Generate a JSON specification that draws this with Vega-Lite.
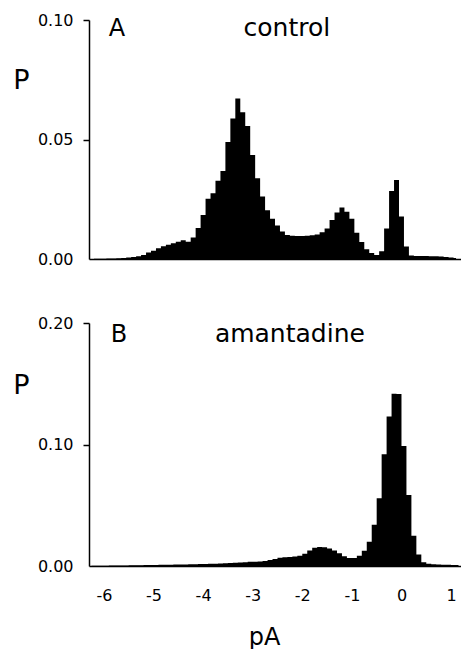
{
  "$schema": "https://vega.github.io/schema/vega-lite/v6.json",
  "background": "white",
  "padding": {"left": 12, "top": 12, "right": 0, "bottom": 0},
  "bounds": "flush",
  "spacing": 64,
  "config": {
    "view": {"stroke": null},
    "font": "DejaVu Sans",
    "axis": {
      "grid": false,
      "domainColor": "black",
      "tickColor": "black",
      "labelColor": "black",
      "titleColor": "black",
      "labelFont": "DejaVu Sans",
      "titleFont": "DejaVu Sans",
      "labelFontSize": 16,
      "labelFontWeight": "normal",
      "titleFontWeight": "normal",
      "domainWidth": 1.5,
      "tickWidth": 1.5
    },
    "text": {"color": "black", "font": "DejaVu Sans"}
  },
  "datasets": {
    "control": [
      {"pA": -6.2, "P": 0.0001}, {"pA": -6.1, "P": 0.0001}, {"pA": -6.0, "P": 0.0001},
      {"pA": -5.9, "P": 0.0002}, {"pA": -5.8, "P": 0.0002}, {"pA": -5.7, "P": 0.0003},
      {"pA": -5.6, "P": 0.0004}, {"pA": -5.5, "P": 0.0006}, {"pA": -5.4, "P": 0.0008},
      {"pA": -5.3, "P": 0.0011}, {"pA": -5.2, "P": 0.0017}, {"pA": -5.1, "P": 0.0027},
      {"pA": -5.0, "P": 0.0035}, {"pA": -4.9, "P": 0.0045}, {"pA": -4.8, "P": 0.0053},
      {"pA": -4.7, "P": 0.0060}, {"pA": -4.6, "P": 0.0066}, {"pA": -4.5, "P": 0.0072},
      {"pA": -4.4, "P": 0.0078}, {"pA": -4.3, "P": 0.0072}, {"pA": -4.2, "P": 0.0090},
      {"pA": -4.1, "P": 0.0130}, {"pA": -4.0, "P": 0.0184}, {"pA": -3.9, "P": 0.0252},
      {"pA": -3.8, "P": 0.0275}, {"pA": -3.7, "P": 0.0327}, {"pA": -3.6, "P": 0.0368},
      {"pA": -3.5, "P": 0.0490}, {"pA": -3.4, "P": 0.0588}, {"pA": -3.3, "P": 0.0672},
      {"pA": -3.2, "P": 0.0614}, {"pA": -3.1, "P": 0.0556}, {"pA": -3.0, "P": 0.0435},
      {"pA": -2.9, "P": 0.0338}, {"pA": -2.8, "P": 0.0262}, {"pA": -2.7, "P": 0.0204},
      {"pA": -2.6, "P": 0.0168}, {"pA": -2.5, "P": 0.0140}, {"pA": -2.4, "P": 0.0115},
      {"pA": -2.3, "P": 0.0100}, {"pA": -2.2, "P": 0.0097}, {"pA": -2.1, "P": 0.0096},
      {"pA": -2.0, "P": 0.0096}, {"pA": -1.9, "P": 0.0097}, {"pA": -1.8, "P": 0.0099},
      {"pA": -1.7, "P": 0.0103}, {"pA": -1.6, "P": 0.0112}, {"pA": -1.5, "P": 0.0128},
      {"pA": -1.4, "P": 0.0163}, {"pA": -1.3, "P": 0.0195}, {"pA": -1.2, "P": 0.0215},
      {"pA": -1.1, "P": 0.0198}, {"pA": -1.0, "P": 0.0168}, {"pA": -0.9, "P": 0.0110},
      {"pA": -0.8, "P": 0.0071}, {"pA": -0.7, "P": 0.0041}, {"pA": -0.6, "P": 0.0025},
      {"pA": -0.5, "P": 0.0017}, {"pA": -0.4, "P": 0.0032}, {"pA": -0.3, "P": 0.0128},
      {"pA": -0.2, "P": 0.0284}, {"pA": -0.1, "P": 0.0331}, {"pA": 0.0, "P": 0.0178},
      {"pA": 0.1, "P": 0.0052}, {"pA": 0.2, "P": 0.0015}, {"pA": 0.3, "P": 0.0013},
      {"pA": 0.4, "P": 0.0013}, {"pA": 0.5, "P": 0.0013}, {"pA": 0.6, "P": 0.0012},
      {"pA": 0.7, "P": 0.0011}, {"pA": 0.8, "P": 0.0010}, {"pA": 0.9, "P": 0.0008},
      {"pA": 1.0, "P": 0.0006}, {"pA": 1.1, "P": 0.0004}
    ],
    "amantadine": [
      {"pA": -6.25, "P": 0.0002}, {"pA": -6.15, "P": 0.0002}, {"pA": -6.05, "P": 0.0003},
      {"pA": -5.95, "P": 0.0003}, {"pA": -5.85, "P": 0.0004}, {"pA": -5.75, "P": 0.0004},
      {"pA": -5.65, "P": 0.0005}, {"pA": -5.55, "P": 0.0005}, {"pA": -5.45, "P": 0.0006},
      {"pA": -5.35, "P": 0.0006}, {"pA": -5.25, "P": 0.0007}, {"pA": -5.15, "P": 0.0008},
      {"pA": -5.05, "P": 0.0008}, {"pA": -4.95, "P": 0.0009}, {"pA": -4.85, "P": 0.0010},
      {"pA": -4.75, "P": 0.0010}, {"pA": -4.65, "P": 0.0011}, {"pA": -4.55, "P": 0.0012},
      {"pA": -4.45, "P": 0.0013}, {"pA": -4.35, "P": 0.0013}, {"pA": -4.25, "P": 0.0014},
      {"pA": -4.15, "P": 0.0015}, {"pA": -4.05, "P": 0.0016}, {"pA": -3.95, "P": 0.0017},
      {"pA": -3.85, "P": 0.0018}, {"pA": -3.75, "P": 0.0019}, {"pA": -3.65, "P": 0.0021},
      {"pA": -3.55, "P": 0.0023}, {"pA": -3.45, "P": 0.0025}, {"pA": -3.35, "P": 0.0027},
      {"pA": -3.25, "P": 0.0028}, {"pA": -3.15, "P": 0.0031}, {"pA": -3.05, "P": 0.0034},
      {"pA": -2.95, "P": 0.0036}, {"pA": -2.85, "P": 0.0038}, {"pA": -2.75, "P": 0.0042},
      {"pA": -2.65, "P": 0.0050}, {"pA": -2.55, "P": 0.0058}, {"pA": -2.45, "P": 0.0068},
      {"pA": -2.35, "P": 0.0072}, {"pA": -2.25, "P": 0.0075}, {"pA": -2.15, "P": 0.0078},
      {"pA": -2.05, "P": 0.0085}, {"pA": -1.95, "P": 0.0100}, {"pA": -1.85, "P": 0.0128},
      {"pA": -1.75, "P": 0.0150}, {"pA": -1.65, "P": 0.0156}, {"pA": -1.55, "P": 0.0155},
      {"pA": -1.45, "P": 0.0145}, {"pA": -1.35, "P": 0.0128}, {"pA": -1.25, "P": 0.0105},
      {"pA": -1.15, "P": 0.0080}, {"pA": -1.05, "P": 0.0066}, {"pA": -0.95, "P": 0.0065},
      {"pA": -0.85, "P": 0.0085}, {"pA": -0.75, "P": 0.0125}, {"pA": -0.65, "P": 0.0200},
      {"pA": -0.55, "P": 0.0340}, {"pA": -0.45, "P": 0.0557}, {"pA": -0.35, "P": 0.0920},
      {"pA": -0.25, "P": 0.1230}, {"pA": -0.15, "P": 0.1418}, {"pA": -0.05, "P": 0.1416},
      {"pA": 0.05, "P": 0.0988}, {"pA": 0.15, "P": 0.0584}, {"pA": 0.25, "P": 0.0250},
      {"pA": 0.35, "P": 0.0095}, {"pA": 0.45, "P": 0.0030}, {"pA": 0.55, "P": 0.0018},
      {"pA": 0.65, "P": 0.0014}, {"pA": 0.75, "P": 0.0012}, {"pA": 0.85, "P": 0.0011},
      {"pA": 0.95, "P": 0.0010}, {"pA": 1.05, "P": 0.0009}, {"pA": 1.15, "P": 0.0008}
    ]
  },
  "vconcat": [
    {
      "width": 372,
      "height": 239,
      "layer": [
        {
          "data": {"name": "control"},
          "mark": {"type": "area", "interpolate": "step", "color": "black"},
          "encoding": {
            "x": {
              "field": "pA", "type": "quantitative",
              "scale": {"domain": [-6.3, 1.2], "nice": false, "zero": false},
              "axis": {"labels": false, "ticks": false, "tickSize": 0, "title": null}
            },
            "y": {
              "field": "P", "type": "quantitative",
              "scale": {"domain": [0, 0.1], "nice": false},
              "axis": {
                "values": [0, 0.05, 0.1], "format": ".2f",
                "tickSize": 6, "labelPadding": 10,
                "tickOpacity": {"condition": {"test": "datum.value === 0", "value": 0}, "value": 1},
                "title": "P", "titleAngle": 0, "titleX": -68, "titleY": 60,
                "titleAlign": "center", "titleBaseline": "middle", "titleFontSize": 27
              }
            }
          }
        },
        {
          "data": {"values": [{}]},
          "mark": {"type": "text", "text": "A", "fontSize": 24, "align": "center", "baseline": "alphabetic"},
          "encoding": {"x": {"datum": -5.735}, "y": {"datum": 0.0933}}
        },
        {
          "data": {"values": [{}]},
          "mark": {"type": "text", "text": "control", "fontSize": 25, "align": "center", "baseline": "alphabetic"},
          "encoding": {"x": {"datum": -2.31}, "y": {"datum": 0.0933}}
        }
      ]
    },
    {
      "width": 372,
      "height": 243,
      "layer": [
        {
          "data": {"name": "amantadine"},
          "mark": {"type": "area", "interpolate": "step", "color": "black"},
          "encoding": {
            "x": {
              "field": "pA", "type": "quantitative",
              "scale": {"domain": [-6.3, 1.2], "nice": false, "zero": false},
              "axis": {
                "values": [-6, -5, -4, -3, -2, -1, 0, 1],
                "labelExpr": "'' + datum.value",
                "labelFlush": false,
                "ticks": false, "tickSize": 0, "labelPadding": 21,
                "title": "pA", "titleFontSize": 24, "titleX": 175, "titleY": 78,
                "titleAlign": "center", "titleBaseline": "alphabetic"
              }
            },
            "y": {
              "field": "P", "type": "quantitative",
              "scale": {"domain": [0, 0.2], "nice": false},
              "axis": {
                "values": [0, 0.1, 0.2], "format": ".2f",
                "tickSize": 6, "labelPadding": 10,
                "tickOpacity": {"condition": {"test": "datum.value === 0", "value": 0}, "value": 1},
                "title": "P", "titleAngle": 0, "titleX": -68, "titleY": 62,
                "titleAlign": "center", "titleBaseline": "middle", "titleFontSize": 27
              }
            }
          }
        },
        {
          "data": {"values": [{}]},
          "mark": {"type": "text", "text": "B", "fontSize": 24, "align": "center", "baseline": "alphabetic"},
          "encoding": {"x": {"datum": -5.695}, "y": {"datum": 0.1846}}
        },
        {
          "data": {"values": [{}]},
          "mark": {"type": "text", "text": "amantadine", "fontSize": 25, "align": "center", "baseline": "alphabetic"},
          "encoding": {"x": {"datum": -2.25}, "y": {"datum": 0.1846}}
        }
      ]
    }
  ]
}
